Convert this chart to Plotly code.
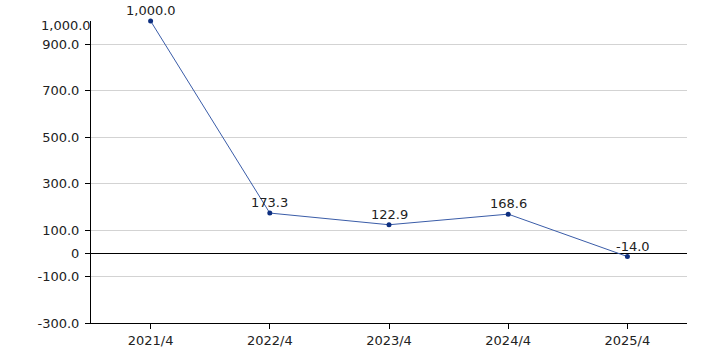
import plotly.graph_objects as go

categories = ["2021/4", "2022/4", "2023/4", "2024/4", "2025/4"]
values = [1000.0, 173.3, 122.9, 168.6, -14.0]
labels = ["1,000.0", "173.3", "122.9", "168.6", "-14.0"]
tick_vals = [-300, -100, 0, 100, 300, 500, 700, 900]
tick_text = ["-300.0", "-100.0", "0", "100.0", "300.0", "500.0", "700.0", "900.0"]

FONT = "DejaVu Sans, Verdana, sans-serif"
xs = list(range(len(categories)))

fig = go.Figure()
fig.add_trace(go.Scatter(
    x=xs, y=values,
    mode="lines+markers",
    line=dict(color="#3a5ca8", width=1),
    marker=dict(color="#0d2f80", size=5),
    cliponaxis=False,
    hoverinfo="skip",
))

for xv, yv, lab in zip(xs, values, labels):
    fig.add_annotation(
        x=xv, y=yv, xref="x", yref="y",
        text=lab, showarrow=False,
        xanchor="center", yanchor="bottom",
        yshift=1, xshift=(6 if yv < 0 else 0),
        font=dict(family=FONT, size=13, color="#222222"),
    )

fig.update_layout(
    width=706, height=353,
    margin=dict(l=91, r=19, t=20.5, b=29.7, autoexpand=False),
    paper_bgcolor="white", plot_bgcolor="white",
    showlegend=False,
    font=dict(family=FONT, size=13, color="#222222"),
    xaxis=dict(
        range=[-0.5, 4.5],
        tickvals=xs, ticktext=categories,
        showgrid=False, zeroline=False,
        showline=True, linecolor="black", linewidth=1,
        ticks="outside", ticklen=5, tickcolor="black",
        tickfont=dict(family=FONT, size=13, color="#222222"),
        fixedrange=True, automargin=False,
    ),
    yaxis=dict(
        range=[-300, 1000],
        tickvals=tick_vals, ticktext=tick_text,
        showgrid=True, gridcolor="#d3d3d3", gridwidth=1,
        zeroline=True, zerolinecolor="black", zerolinewidth=1,
        showline=True, linecolor="black", linewidth=1,
        ticks="outside", ticklen=5, tickcolor="black",
        ticklabelstandoff=3,
        tickfont=dict(family=FONT, size=13, color="#222222"),
        fixedrange=True, automargin=False,
    ),
)

fig.add_annotation(
    x=0, xref="paper", y=1000, yref="y",
    text="1,000.0", showarrow=False,
    xanchor="right", yanchor="middle", xshift=2, yshift=-4,
    font=dict(family=FONT, size=13, color="#222222"),
)

fig.write_html(
    "out.html",
    config={"displayModeBar": False},
    post_script="document.body.style.margin='0';document.body.style.overflow='hidden';",
)
